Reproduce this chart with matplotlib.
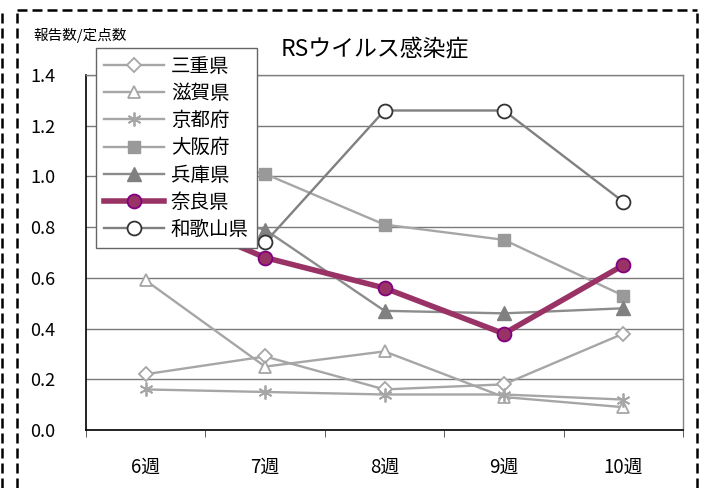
import numpy as np
import matplotlib
matplotlib.use('Agg')
import matplotlib.pyplot as plt
from matplotlib.lines import Line2D

plt.rcParams['font.family'] = ['Noto Sans CJK JP', 'DejaVu Sans']

# データ（報告数/定点数）
weeks = ['6週', '7週', '8週', '9週', '10週']
mie = [0.22, 0.29, 0.16, 0.18, 0.38]
shiga = [0.59, 0.25, 0.31, 0.13, 0.09]
kyoto = [0.16, 0.15, 0.14, 0.14, 0.12]
osaka = [1.10, 1.01, 0.81, 0.75, 0.53]
hyogo = [0.90, 0.79, 0.47, 0.46, 0.48]
nara = [0.88, 0.68, 0.56, 0.38, 0.65]
wakayama = [1.00, 0.74, 1.26, 1.26, 0.90]
yticks = [0.0, 0.2, 0.4, 0.6, 0.8, 1.0, 1.2, 1.4]

fig = plt.figure(figsize=(7.2, 4.88), dpi=100)
ax = fig.add_axes([86/720, 1 - 430/488, (683 - 86)/720, (430 - 75)/488])

x = np.arange(len(weeks))
light = '#a6a6a6'
mid = '#8c8c8c'

ax.plot(x, mie, color=light, lw=1.7, marker='D', ms=7, mfc='white', mec=light, mew=1.3, label='三重県')
ax.plot(x, shiga, color=light, lw=1.7, marker='^', ms=9, mfc='white', mec=light, mew=1.3, label='滋賀県')
ax.plot(x, kyoto, color=light, lw=1.7, marker=(6, 2, 0), ms=10, mec=light, mew=1.3, label='京都府')
ax.plot(x, osaka, color=light, lw=1.7, marker='s', ms=9, mfc='#999999', mec='#999999', label='大阪府')
ax.plot(x, hyogo, color=mid, lw=1.7, marker='^', ms=10, mfc='#808080', mec='#808080', label='兵庫県')
ax.plot(x, nara, color='#993366', lw=4, marker='o', ms=10, mfc='#993366', mec='#800080', mew=1.3, label='奈良県')
ax.plot(x, wakayama, color='#808080', lw=1.7, marker='o', ms=10, mfc='white', mec='#333333', mew=1.3, label='和歌山県')

ax.set_xlim(-0.5, 4.5)
ax.set_ylim(0, 1.4)
ax.set_yticks(yticks)
ax.set_yticklabels(['%.1f' % v for v in yticks], fontsize=13)
ax.tick_params(axis='y', length=0, pad=22)
ax.set_xticks(x)
ax.set_xticklabels(weeks, fontsize=13.5)
ax.set_xticks(np.arange(-0.5, 5, 1), minor=True)
ax.tick_params(axis='x', which='major', length=0, pad=19)
ax.tick_params(axis='x', which='minor', length=5, direction='out', color='#444444')
ax.yaxis.grid(True, color='#7a7a7a', lw=1)
ax.set_axisbelow(True)
for side in ['top', 'right']:
    ax.spines[side].set_color('#808080')
    ax.spines[side].set_linewidth(1)
for side in ['left', 'bottom']:
    ax.spines[side].set_color('black')
    ax.spines[side].set_linewidth(1.2)

leg = ax.legend(loc='upper left', bbox_to_anchor=(10/597, 1 + 27/355), borderaxespad=0,
                fontsize=14, frameon=True, fancybox=False, edgecolor='#666666', framealpha=1,
                handlelength=3.1, borderpad=0.4, labelspacing=0.32, handletextpad=0.35)
leg.get_frame().set_linewidth(1)
leg.set_zorder(10)

fig.text(375/720, 1 - 50/488, 'RSウイルス感染症', fontsize=16.5, ha='center', va='center')
fig.text(33/720, 1 - 35/488, '報告数/定点数', fontsize=10.5, ha='left', va='center')

# 破線の枠
dash = dict(color='black', lw=1.8, ls=(0, (4, 2)))
fig.add_artist(Line2D([17/720, 17/720], [0, 1 - 10/488], transform=fig.transFigure, **dash))
fig.add_artist(Line2D([17/720, 697/720], [1 - 10/488, 1 - 10/488], transform=fig.transFigure, **dash))
fig.add_artist(Line2D([697/720, 697/720], [0, 1 - 10/488], transform=fig.transFigure, **dash))
fig.add_artist(Line2D([2/720, 2/720], [0, 1 - 10/488], transform=fig.transFigure, **dash))

fig.savefig('out.png', dpi=100)
